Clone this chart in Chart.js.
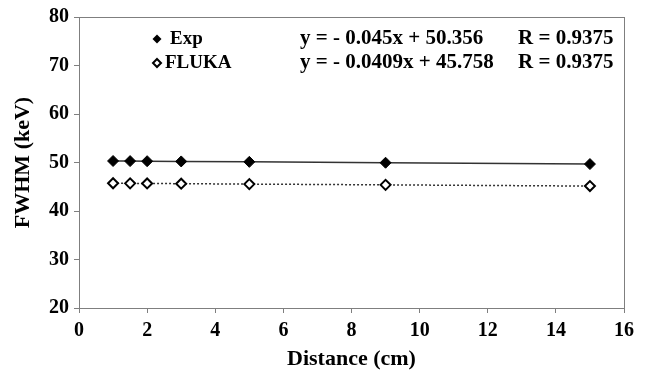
<!DOCTYPE html>
<html>
<head>
<meta charset="utf-8">
<script src="https://cdn.jsdelivr.net/npm/chart.js@4/dist/chart.umd.min.js"></script>
<style>
  html, body { margin: 0; padding: 0; background: #fff; }
  #wrap { width: 646px; height: 373px; position: relative; }
</style>
</head>
<body>
<div id="wrap"><canvas id="c" width="646" height="373"></canvas></div>
<script>
// Distance from source (cm)
const distances = [1, 1.5, 2, 3, 5, 9, 15];
// Measured FWHM (keV)
const expFwhm = [50.31, 50.29, 50.27, 50.22, 50.13, 49.95, 49.68];
// Simulated FWHM (keV)
const flukaFwhm = [45.72, 45.70, 45.68, 45.63, 45.55, 45.39, 45.14];
// Series names and fit annotations
const seriesNames = ['Exp', 'FLUKA'];
const fitEquations = ['y = - 0.045x + 50.356', 'y = - 0.0409x + 45.758'];
const fitR = ['R = 0.9375', 'R = 0.9375'];

const FONT = '"Liberation Serif", "Times New Roman", serif';

const toPoints = (xs, ys) => xs.map((x, i) => ({ x, y: ys[i] }));

// Frame around the plot area plus in-plot legend and fit equations
const annotate = {
  id: 'annotate',
  afterDraw(chart) {
    const { ctx, chartArea: a } = chart;
    ctx.save();
    ctx.strokeStyle = '#7f7f7f';
    ctx.lineWidth = 1;
    ctx.strokeRect(Math.round(a.left) + 0.5, Math.round(a.top) + 0.5,
                   Math.round(a.right - a.left), Math.round(a.bottom - a.top));

    ctx.textBaseline = 'middle';
    ctx.fillStyle = '#000';
    const rows = [a.top + 22, a.top + 46];
    // legend markers
    const mx = a.left + 78;
    const drawDiamond = (cx, cy, r, filled) => {
      ctx.beginPath();
      ctx.moveTo(cx, cy - r); ctx.lineTo(cx + r, cy);
      ctx.lineTo(cx, cy + r); ctx.lineTo(cx - r, cy); ctx.closePath();
      if (filled) { ctx.fillStyle = '#000'; ctx.fill(); }
      else { ctx.fillStyle = '#fff'; ctx.fill(); ctx.lineWidth = 2; ctx.strokeStyle = '#000'; ctx.stroke(); }
    };
    drawDiamond(mx, rows[0], 4.5, true);
    drawDiamond(mx, rows[1], 4, false);
    ctx.fillStyle = '#000';
    ctx.textAlign = 'left';
    ctx.font = 'bold 19px ' + FONT;
    ctx.fillText(seriesNames[0], a.left + 91, rows[0]);
    ctx.fillText(seriesNames[1], a.left + 86, rows[1]);
    ctx.font = 'bold 21px ' + FONT;
    fitEquations.forEach((t, i) => ctx.fillText(t, a.left + 221, rows[i]));
    fitR.forEach((t, i) => ctx.fillText(t, a.left + 439, rows[i]));
    ctx.restore();
  }
};

new Chart(document.getElementById('c'), {
  type: 'scatter',
  data: {
    datasets: [
      {
        label: seriesNames[0],
        data: toPoints(distances, expFwhm),
        showLine: true,
        borderColor: '#333',
        borderWidth: 1.5,
        pointStyle: 'rectRot',
        pointRadius: 5.5,
        pointBackgroundColor: '#000',
        pointBorderColor: '#000',
        pointBorderWidth: 1
      },
      {
        label: seriesNames[1],
        data: toPoints(distances, flukaFwhm),
        showLine: true,
        borderColor: '#333',
        borderWidth: 1.5,
        borderDash: [2, 2],
        pointStyle: 'rectRot',
        pointRadius: 5,
        pointBackgroundColor: '#fff',
        pointBorderColor: '#000',
        pointBorderWidth: 2
      }
    ]
  },
  options: {
    responsive: false,
    animation: false,
    layout: { padding: { top: 15, right: 22, left: 0, bottom: 0 } },
    plugins: { legend: { display: false }, tooltip: { enabled: false } },
    scales: {
      x: {
        type: 'linear',
        min: 0, max: 16,
        ticks: { stepSize: 2, color: '#000', font: { family: FONT, size: 20, weight: 'bold' }, padding: 6, maxRotation: 0 },
        grid: { drawOnChartArea: false, color: '#7f7f7f', tickLength: 5 },
        border: { color: '#7f7f7f' },
        title: { display: true, text: 'Distance (cm)', color: '#000', font: { family: FONT, size: 22, weight: 'bold' }, padding: { top: 0, bottom: 0 } },
        afterFit(s) { s.height = 65; }
      },
      y: {
        min: 20, max: 80,
        ticks: { stepSize: 10, color: '#000', font: { family: FONT, size: 20, weight: 'bold' }, padding: 5 },
        grid: { drawOnChartArea: false, color: '#7f7f7f', tickLength: 5 },
        border: { color: '#7f7f7f' },
        title: { display: true, text: 'FWHM (keV)', color: '#000', font: { family: FONT, size: 22, weight: 'bold' }, padding: { top: 10, bottom: 4 } },
        afterFit(s) { s.width = 79; }
      }
    }
  },
  plugins: [annotate]
});
</script>
</body>
</html>
